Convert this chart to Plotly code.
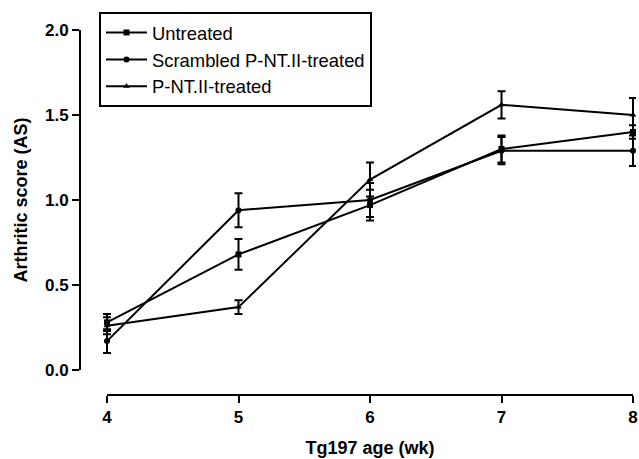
import plotly.graph_objects as go

weeks = [4, 5, 6, 7, 8]
series_names = ["Untreated", "Scrambled P-NT.II-treated", "P-NT.II-treated"]
untreated = [0.28, 0.68, 0.97, 1.30, 1.40]
untreated_err = [0.05, 0.09, 0.09, 0.08, 0.04]
scrambled = [0.17, 0.94, 1.00, 1.29, 1.29]
scrambled_err = [0.07, 0.10, 0.10, 0.08, 0.09]
treated = [0.26, 0.37, 1.12, 1.56, 1.50]
treated_err = [0.05, 0.04, 0.10, 0.08, 0.10]
symbols = ["square", "circle", "triangle-up"]

y_ticks = [0.0, 0.5, 1.0, 1.5, 2.0]
y_ticklabels = ["0.0", "0.5", "1.0", "1.5", "2.0"]

W, H = 639, 459
L, R, T, B = 80, 3, 8, 64
pw, ph = W - L - R, H - T - B
x0px, x1px = 107, 633   # pixel of week 4 / week 8
y0px, y1px = 370, 30    # pixel of 0.0 / 2.0

xu = (x1px - x0px) / (weeks[-1] - weeks[0])
yu = (y0px - y1px) / (y_ticks[-1] - y_ticks[0])
xr = [weeks[0] - (x0px - L) / xu, weeks[-1] + (W - R - x1px) / xu]
yr = [y_ticks[0] - (T + ph - y0px) / yu, y_ticks[-1] + (y1px - T) / yu]

fig = go.Figure()
for name, vals, errs, sym in zip(series_names, [untreated, scrambled, treated],
                                 [untreated_err, scrambled_err, treated_err], symbols):
    fig.add_trace(go.Scatter(
        x=weeks, y=vals, name=name, mode="lines+markers",
        line=dict(color="black", width=2),
        marker=dict(symbol=sym, size=6, color="black"),
        error_y=dict(type="data", array=errs, color="black", thickness=2, width=4),
        xaxis="x", yaxis="y", cliponaxis=False,
    ))

# empty trace to instantiate the display axes
fig.add_trace(go.Scatter(x=[], y=[], xaxis="x2", yaxis="y2", showlegend=False))

fig.update_layout(
    width=W, height=H,
    margin=dict(l=L, r=R, t=T, b=B),
    paper_bgcolor="white", plot_bgcolor="rgba(0,0,0,0)",
    font=dict(family="Liberation Sans, Arial, sans-serif", color="black"),
    xaxis=dict(range=xr, domain=[0, 1], visible=False, showgrid=False, zeroline=False),
    yaxis=dict(range=yr, domain=[0, 1], visible=False, showgrid=False, zeroline=False),
    xaxis2=dict(
        range=[weeks[0], weeks[-1]],
        domain=[(x0px - L) / pw, (x1px - L) / pw],
        anchor="free", position=0, automargin=False,
        showline=True, linecolor="black", linewidth=2,
        ticks="outside", ticklen=7, tickwidth=2, tickcolor="black",
        tickvals=weeks, ticktext=[str(w) for w in weeks],
        tickfont=dict(size=17, weight="bold"),
        showgrid=False, zeroline=False,
        title=dict(text="Tg197 age (wk)", font=dict(size=18, weight="bold"), standoff=14),
    ),
    yaxis2=dict(
        range=[y_ticks[0], y_ticks[-1]],
        domain=[(T + ph - y0px) / ph, (T + ph - y1px) / ph],
        anchor="free", position=0, automargin=False,
        showline=True, linecolor="black", linewidth=2,
        ticks="outside", ticklen=7, tickwidth=2, tickcolor="black",
        tickvals=y_ticks, ticktext=y_ticklabels,
        tickfont=dict(size=17, weight="bold"),
        showgrid=False, zeroline=False,
        title=dict(text="Arthritic score (AS)", font=dict(size=18, weight="bold"), standoff=12),
    ),
    showlegend=True,
    legend=dict(
        x=(99 - L) / pw, y=(T + ph - 12) / ph, xanchor="left", yanchor="top",
        bordercolor="black", borderwidth=2, bgcolor="white",
        font=dict(size=18.4), tracegroupgap=0, itemwidth=41,
    ),
)

fig.write_html("out.html", config={"displayModeBar": False},
               post_script="document.body.style.margin='0';")
